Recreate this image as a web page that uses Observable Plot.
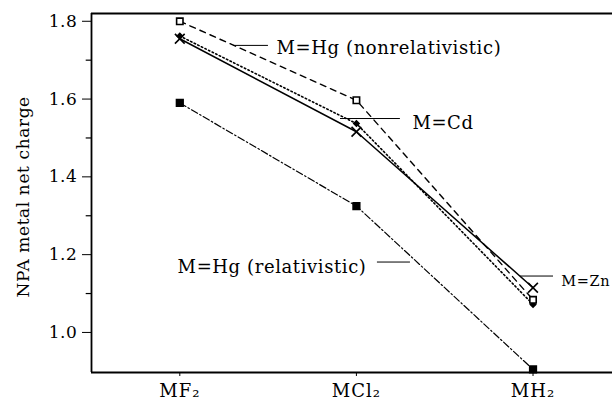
<!DOCTYPE html>
<html>
<head>
<meta charset="utf-8">
<script src="https://cdn.jsdelivr.net/npm/d3@7"></script>
<script src="https://cdn.jsdelivr.net/npm/@observablehq/plot@0.6"></script>
<style>
  html, body { margin: 0; padding: 0; background: #fff; }
  #chart svg text { letter-spacing: 0.6px; }
  #chart svg [aria-label^="x-axis"] text { font-size: 18px; letter-spacing: 1px; }
</style>
</head>
<body>
<div id="chart"></div>
<script>
const categories = ["MF₂", "MCl₂", "MH₂"];
const hgNonrel = [1.80, 1.597, 1.084];
const cd = [1.762, 1.537, 1.072];
const zn = [1.755, 1.516, 1.115];
const hgRel = [1.59, 1.325, 0.905];
const yTicks = [1.0, 1.2, 1.4, 1.6, 1.8];
const yMinorTicks = [1.1, 1.3, 1.5, 1.7];
const seriesNames = ["M=Hg (nonrelativistic)", "M=Cd", "M=Zn", "M=Hg (relativistic)"];
const yTitle = "NPA metal net charge";

// annotation labels (data coordinates: x index, y value)
const labelsStart = [
  {text: "M=Hg (nonrelativistic)", x: 0.548, y: 1.731, x1: 0.304, x2: 0.502, ly: 1.738, size: 18},
  {text: "M=Cd", x: 1.317, y: 1.539, x1: 0.91, x2: 1.249, ly: 1.550, size: 18},
  {text: "M=Zn", x: 2.16, y: 1.131, x1: 1.929, x2: 2.116, ly: 1.145, size: 14.5}
];
const labelsEnd = [
  {text: "M=Hg (relativistic)", x: 1.057, y: 1.168, x1: 1.119, x2: 1.306, ly: 1.181, size: 18}
];

const mk = (vals, name) => vals.map((v, i) => ({i, v, name}));
const sNonrel = mk(hgNonrel, seriesNames[0]);
const sCd = mk(cd, seriesNames[1]);
const sZn = mk(zn, seriesNames[2]);
const sRel = mk(hgRel, seriesNames[3]);

const yMin = 0.897, yMax = 1.82, xMin = -0.5, xMax = 2.45;
const font = "'DejaVu Serif', serif";

const chart = Plot.plot({
  width: 612,
  height: 406,
  marginLeft: 91,
  marginRight: 0,
  marginTop: 13,
  marginBottom: 34,
  style: {fontFamily: font, fontSize: "17px", background: "#fff", color: "#000", overflow: "visible"},
  x: {
    domain: [xMin, xMax],
    ticks: [0, 1, 2],
    tickFormat: d => categories[d],
    tickSize: 4,
    tickPadding: 8,
    label: null
  },
  y: {
    domain: [yMin, yMax],
    ticks: yTicks,
    tickFormat: d => d.toFixed(1),
    tickSize: 9,
    tickPadding: 5,
    label: null
  },
  marks: [
    // frame (top, bottom, left)
    Plot.ruleY([yMin, yMax], {x1: xMin, x2: xMax, stroke: "#000", strokeWidth: 1.8}),
    Plot.ruleX([xMin], {y1: yMin, y2: yMax, stroke: "#000", strokeWidth: 1.8}),
    // minor y ticks
    Plot.ruleY(yMinorTicks, {x1: xMin - 0.03, x2: xMin, stroke: "#000", strokeWidth: 1.2}),
    // y axis title
    Plot.text([yTitle], {x: xMin - 0.385, y: (yMin + yMax) / 2 - 0.01, text: d => d, rotate: -90, fontSize: 17, fill: "#000"}),
    // series lines
    Plot.line(sNonrel, {x: "i", y: "v", stroke: "#000", strokeWidth: 1.4, strokeDasharray: "6,5"}),
    Plot.line(sCd, {x: "i", y: "v", stroke: "#000", strokeWidth: 1.6, strokeDasharray: "1.5,2.5"}),
    Plot.line(sZn, {x: "i", y: "v", stroke: "#000", strokeWidth: 1.5}),
    Plot.line(sRel, {x: "i", y: "v", stroke: "#000", strokeWidth: 1.2, strokeDasharray: "7,2.5,1.5,2.5"}),
    // markers
    Plot.dot(sCd, {x: "i", y: "v", symbol: "diamond2", r: 2.5, stroke: "#000", strokeWidth: 1.4, fill: "#000"}),
    Plot.dot(sNonrel, {x: "i", y: "v", symbol: "square", r: 3.6, stroke: "#000", strokeWidth: 1.6, fill: "#fff"}),
    Plot.dot(sZn, {x: "i", y: "v", symbol: "times", r: 4.5, stroke: "#000", strokeWidth: 1.6}),
    Plot.dot(sRel, {x: "i", y: "v", symbol: "square", r: 3.8, fill: "#000", stroke: "#000"}),
    // annotation leaders and labels
    Plot.ruleY(labelsStart.concat(labelsEnd), {y: "ly", x1: "x1", x2: "x2", stroke: "#000", strokeWidth: 1}),
    Plot.text(labelsStart, {x: "x", y: "y", text: "text", textAnchor: "start", fontSize: "size", fill: "#000"}),
    Plot.text(labelsEnd, {x: "x", y: "y", text: "text", textAnchor: "end", fontSize: "size", fill: "#000"})
  ]
});

document.getElementById("chart").appendChild(chart);
</script>
</body>
</html>
